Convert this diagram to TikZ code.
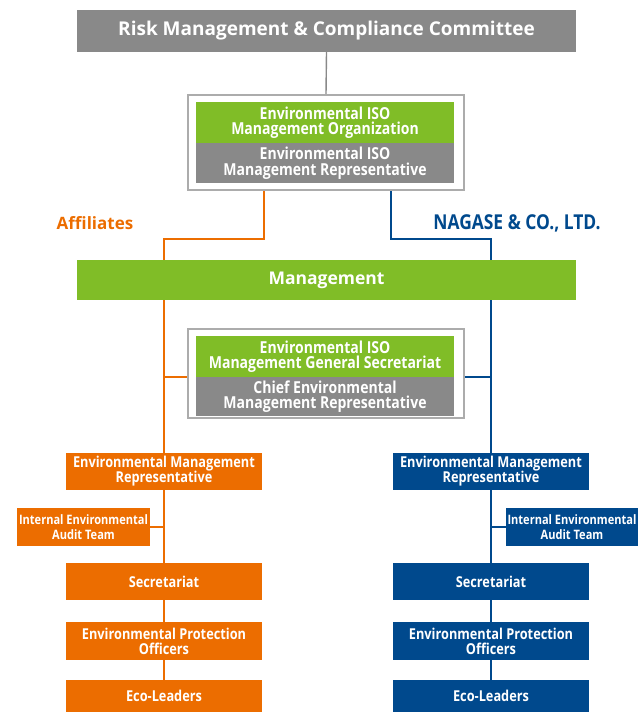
\documentclass[tikz,border=0pt]{standalone}
\usepackage{fontspec}
\setmainfont{Open Sans}
\newfontfamily\narrowfont[FakeStretch=0.85]{Open Sans}
\usetikzlibrary{backgrounds}
\definecolor{riskgray}{HTML}{898989}
\definecolor{isogreen}{HTML}{80BD27}
\definecolor{affilorange}{HTML}{EC6D00}
\definecolor{nagaseblue}{HTML}{00498D}
\tikzset{
  bar/.style={fill=#1, text=white, inner sep=0pt, align=center},
  frame/.style={draw=riskgray!70, line width=1.5pt, fill=white, inner sep=0pt, minimum width=276pt},
  isobar/.style={bar=#1, minimum width=258pt, font=\narrowfont\bfseries\fontsize{16.5}{15.5}\selectfont},
  unit/.style={bar=#1, minimum width=196pt, minimum height=37pt, font=\narrowfont\bfseries\fontsize{15}{15}\selectfont},
  audit/.style={unit=#1, minimum height=38pt, font=\narrowfont\bfseries\fontsize{13}{15}\selectfont},
  aline/.style={draw=affilorange, line width=1.4pt},
  nline/.style={draw=nagaseblue, line width=1.4pt},
}
\begin{document}
\begin{tikzpicture}[x=1pt,y=-1pt]
\useasboundingbox (0,0) rectangle (639,713);
\node[bar=riskgray, minimum width=499pt, minimum height=42pt, font=\bfseries\fontsize{19}{21}\selectfont] (risk) at (326.5,31) {Risk Management \& Compliance Committee};
\node[frame, minimum height=95pt] (isobox) at (326,142.5) {};
\node[isobar=isogreen, minimum height=41pt] (isoorg) at (325,122.5) {Environmental ISO\\Management Organization};
\node[isobar=riskgray, minimum height=40pt] (isorep) at (325,163) {Environmental ISO\\Management Representative};
\node[text=affilorange, font=\bfseries\fontsize{17}{18}\selectfont] (affil) at (95,223) {Affiliates};
\node[text=nagaseblue, font=\narrowfont\bfseries\fontsize{20.5}{18}\selectfont] (nagase) at (517,223) {NAGASE \& CO., LTD.};
\node[bar=isogreen, minimum width=499pt, minimum height=40pt, font=\bfseries\fontsize{17.5}{18}\selectfont] (mgmt) at (326.5,280) {Management};
\node[frame, minimum height=89pt] (secbox) at (326,373.5) {};
\node[isobar=isogreen, minimum height=41pt] (gensec) at (325,356.5) {Environmental ISO\\Management General Secretariat};
\node[isobar=riskgray, minimum height=39pt] (chiefrep) at (325,396.5) {Chief Environmental\\Management Representative};
% affiliates side
\node[unit=affilorange] (aemr) at (164,471.5) {Environmental Management\\Representative};
\node[audit=affilorange, minimum width=133pt] (aaudit) at (83.5,527) {Internal Environmental\\Audit Team};
\node[unit=affilorange] (asec) at (164,581.5) {Secretariat};
\node[unit=affilorange, minimum height=38pt] (aepo) at (164,641) {Environmental Protection\\Officers};
\node[unit=affilorange, minimum height=32pt] (aeco) at (164,696) {Eco-Leaders};
% nagase side
\node[unit=nagaseblue] (nemr) at (491,471.5) {Environmental Management\\Representative};
\node[audit=nagaseblue, minimum width=132pt] (naudit) at (572,527) {Internal Environmental\\Audit Team};
\node[unit=nagaseblue] (nsec) at (491,581.5) {Secretariat};
\node[unit=nagaseblue, minimum height=38pt] (nepo) at (491,641) {Environmental Protection\\Officers};
\node[unit=nagaseblue, minimum height=32pt] (neco) at (491,696) {Eco-Leaders};
\coordinate (aknee) at (164,239);
\coordinate (nknee) at (491,239);
\coordinate (aside) at (164,377);
\coordinate (nside) at (491,377);
\begin{scope}[on background layer]
\draw[riskgray, line width=1.4pt] (risk.south) -- (isobox.north);
\draw[aline] ([xshift=-62pt]isobox.south) |- (aknee) -- (aemr.north);
\draw[nline] ([xshift=65pt]isobox.south) |- (nknee) -- (nemr.north);
\end{scope}
\draw[affilorange, line width=1.4pt] (aside) -- (aside -| secbox.west);
\draw[nagaseblue, line width=1.4pt] (nside -| secbox.east) -- (nside);
\draw[aline] (aaudit.east) -- (aaudit.east -| aemr.south);
\draw[nline] (naudit.west) -- (naudit.west -| nemr.south);
\draw[aline] (aemr.south) -- (asec.north);
\draw[aline] (asec.south) -- (aepo.north);
\draw[aline] (aepo.south) -- (aeco.north);
\draw[nline] (nemr.south) -- (nsec.north);
\draw[nline] (nsec.south) -- (nepo.north);
\draw[nline] (nepo.south) -- (neco.north);
\end{tikzpicture}
\end{document}
